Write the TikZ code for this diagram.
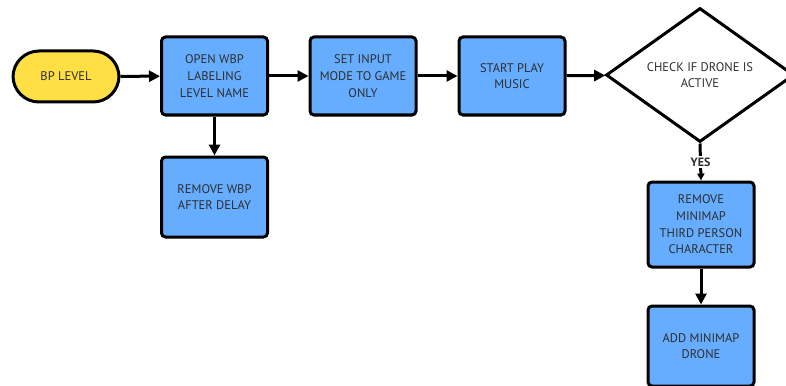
\documentclass[tikz,border=0pt]{standalone}
\usepackage{fontspec}
\setmainfont{PT Sans}
\usetikzlibrary{shapes.geometric,arrows.meta}
\definecolor{stepblue}{HTML}{66ADFF}
\definecolor{startyellow}{HTML}{FFDF44}
\definecolor{inkgray}{HTML}{2E2E2E}
\tikzset{
  x=1pt, y=-1pt,
  every node/.style={font=\fontsize{12.5}{16.7}\selectfont, text=inkgray, align=center},
  stepbox/.style={draw=black, line width=3pt, fill=stepblue, rounded corners=4pt,
    minimum width=106pt, inner sep=0pt},
  startbox/.style={draw=black, line width=3pt, fill=startyellow, rounded corners=26pt,
    minimum width=106pt, minimum height=51pt, inner sep=0pt},
  decision/.style={draw=black, line width=3pt, fill=white, diamond, inner sep=0pt,
    minimum width=188pt, minimum height=134pt},
  link/.style={line width=3pt, -{Triangle[length=11pt,width=11pt]}},
}
\begin{document}
\begin{tikzpicture}
\useasboundingbox (0,0) rectangle (786,385);

\node[startbox] (bp) at (66,76.5) {BP LEVEL};
\node[stepbox, minimum height=78pt] (open) at (214.5,76) {OPEN WBP\\LABELING\\LEVEL NAME};
\node[stepbox, minimum height=78pt] (input) at (363,76) {SET INPUT\\MODE TO GAME\\ONLY};
\node[stepbox, minimum height=78pt] (music) at (512,76) {START PLAY\\MUSIC};
\node[decision] (drone) at (700,75) {CHECK IF DRONE IS\\ACTIVE};
\node[stepbox, minimum height=80pt] (removewbp) at (214.5,197) {REMOVE WBP\\AFTER DELAY};
\node[stepbox, minimum height=85pt] (removemap) at (701,224.5) {REMOVE\\MINIMAP\\THIRD PERSON\\CHARACTER};
\node[stepbox, minimum height=80pt] (addmap) at (701,346) {ADD MINIMAP\\DRONE};

\draw[link] (bp) -- (open);
\draw[link] (open) -- (input);
\draw[link] (input) -- (music);
\draw[link] (music) -- (drone);
\draw[link] (open) -- (removewbp);
\draw[line width=3pt, -{Triangle[length=7pt,width=7pt]}] (drone.south) -- (removemap.north)
  node[pos=0.5, fill=white, inner sep=1.5pt, font=\fontsize{12}{13}\selectfont\bfseries] {YES};
\draw[link] (removemap) -- (addmap);
\end{tikzpicture}
\end{document}
